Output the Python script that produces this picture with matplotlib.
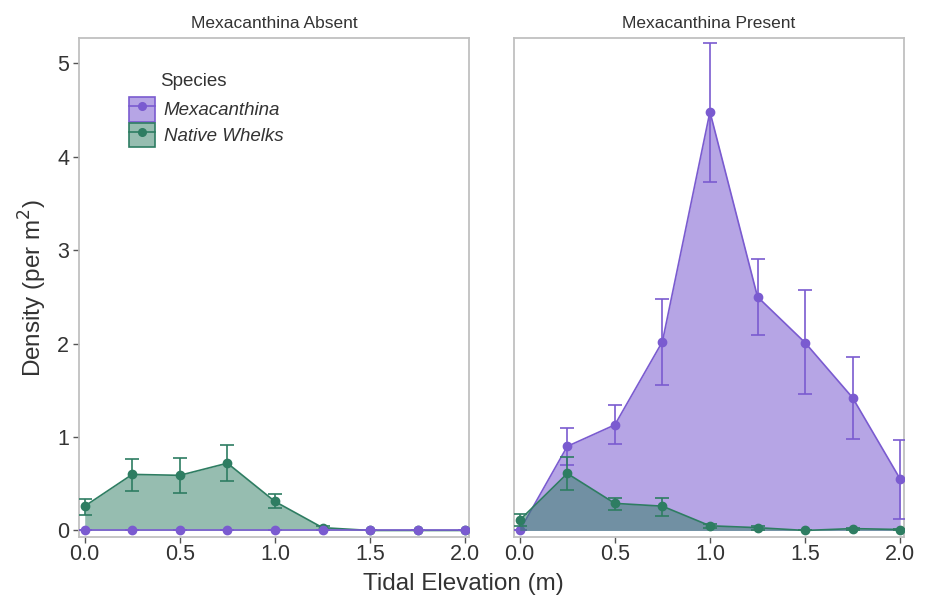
import matplotlib.pyplot as plt
from matplotlib.patches import Patch
from matplotlib.lines import Line2D
from matplotlib.legend_handler import HandlerTuple

plt.rcParams['font.family'] = ['Liberation Sans', 'DejaVu Sans']

elevation = [0.0, 0.25, 0.5, 0.75, 1.0, 1.25, 1.5, 1.75, 2.0]
panels = ['Mexacanthina Absent', 'Mexacanthina Present']

# Mexacanthina absent panel
mex_absent = [0, 0, 0, 0, 0, 0, 0, 0, 0]
mex_absent_lo = [0, 0, 0, 0, 0, 0, 0, 0, 0]
mex_absent_hi = [0, 0, 0, 0, 0, 0, 0, 0, 0]
nat_absent = [0.26, 0.60, 0.59, 0.72, 0.31, 0.03, 0.0, 0.0, 0.0]
nat_absent_lo = [0.17, 0.42, 0.40, 0.53, 0.24, 0.01, 0.0, 0.0, 0.0]
nat_absent_hi = [0.34, 0.76, 0.78, 0.91, 0.39, 0.05, 0.0, 0.0, 0.0]

# Mexacanthina present panel
mex_present = [0.0, 0.90, 1.13, 2.02, 4.48, 2.50, 2.01, 1.42, 0.55]
mex_present_lo = [0.0, 0.70, 0.92, 1.56, 3.73, 2.09, 1.46, 0.98, 0.12]
mex_present_hi = [0.0, 1.10, 1.34, 2.48, 5.22, 2.91, 2.57, 1.86, 0.97]
nat_present = [0.11, 0.61, 0.29, 0.26, 0.05, 0.03, 0.0, 0.02, 0.01]
nat_present_lo = [0.05, 0.43, 0.22, 0.16, 0.03, 0.01, 0.0, 0.01, 0.0]
nat_present_hi = [0.18, 0.79, 0.35, 0.35, 0.07, 0.05, 0.0, 0.03, 0.02]

mex_col = '#7a5bd0'
nat_col = '#2e7d62'
text_col = '#333333'
frame_col = '#c0c0c0'


def draw_series(ax, y, lo, hi, line_col, fill_alpha, z):
    ax.fill_between(elevation, 0, y, color=line_col, alpha=fill_alpha, lw=0, zorder=z)
    yerr = [[v - l for v, l in zip(y, lo)], [h - v for v, h in zip(y, hi)]]
    ax.errorbar(elevation, y, yerr=yerr, color=line_col, lw=1.2, marker='o',
                ms=6, capsize=5, capthick=1.2, elinewidth=1.2, zorder=z + 2)


fig = plt.figure(figsize=(9.27, 5.98), dpi=100)
ax1 = fig.add_axes([79 / 927, 1 - 537 / 598, 390 / 927, 499 / 598])
ax2 = fig.add_axes([514 / 927, 1 - 537 / 598, 390 / 927, 499 / 598])

draw_series(ax1, nat_absent, nat_absent_lo, nat_absent_hi, nat_col, 0.5, 2)
draw_series(ax1, mex_absent, mex_absent_lo, mex_absent_hi, mex_col, 0.55, 5)

draw_series(ax2, mex_present, mex_present_lo, mex_present_hi, mex_col, 0.55, 2)
draw_series(ax2, nat_present, nat_present_lo, nat_present_hi, nat_col, 0.5, 5)

for ax, title in zip([ax1, ax2], panels):
    ax.set_xlim(-0.03, 2.02)
    ax.set_ylim(-0.07, 5.27)
    ax.set_xticks([0.0, 0.5, 1.0, 1.5, 2.0])
    ax.set_xticklabels(['0.0', '0.5', '1.0', '1.5', '2.0'])
    ax.set_yticks([0, 1, 2, 3, 4, 5])
    ax.set_title(title, fontsize=12.5, color=text_col, pad=7)
    for s in ax.spines.values():
        s.set_color(frame_col)
        s.set_linewidth(1.3)
    ax.tick_params(colors=text_col, labelsize=15.5, length=4, width=1,
                   color='#555555', pad=3)
    ax.tick_params(axis='x', pad=1)

ax2.tick_params(axis='y', left=False, labelleft=False)

fig.text(33 / 927, 1 - 288 / 598, 'Density (per m$^2$)', rotation=90,
         va='center', ha='center', fontsize=17.5, color=text_col)
fig.text(0.5, 1 - 584 / 598, 'Tidal Elevation (m)', ha='center', va='center',
         fontsize=17.5, color=text_col)

handles = [
    (Patch(facecolor=mex_col, alpha=0.55, edgecolor='none'),
     Patch(facecolor='none', edgecolor=mex_col, lw=1.2),
     Line2D([], [], color=mex_col, marker='o', ms=5.5, lw=1.2)),
    (Patch(facecolor=nat_col, alpha=0.5, edgecolor='none'),
     Patch(facecolor='none', edgecolor=nat_col, lw=1.2),
     Line2D([], [], color=nat_col, marker='o', ms=5.5, lw=1.2)),
]
leg = ax1.legend(handles, ['Mexacanthina', 'Native Whelks'],
                 handler_map={tuple: HandlerTuple(ndivide=1, pad=0)},
                 loc='upper left', bbox_to_anchor=((129 - 79) / 390, 1 - (97 - 38) / 499),
                 frameon=False, fontsize=13.5, borderpad=0, borderaxespad=0,
                 handlelength=1.4, handleheight=1.65, labelspacing=0.05,
                 handletextpad=0.45)
for t in leg.get_texts():
    t.set_fontstyle('italic')
    t.set_color(text_col)
ax1.text((160 - 79) / 390, 1 - (81 - 38) / 499, 'Species', transform=ax1.transAxes,
         ha='left', va='center', fontsize=13.5, color=text_col)

fig.savefig('out.png', dpi=100)
